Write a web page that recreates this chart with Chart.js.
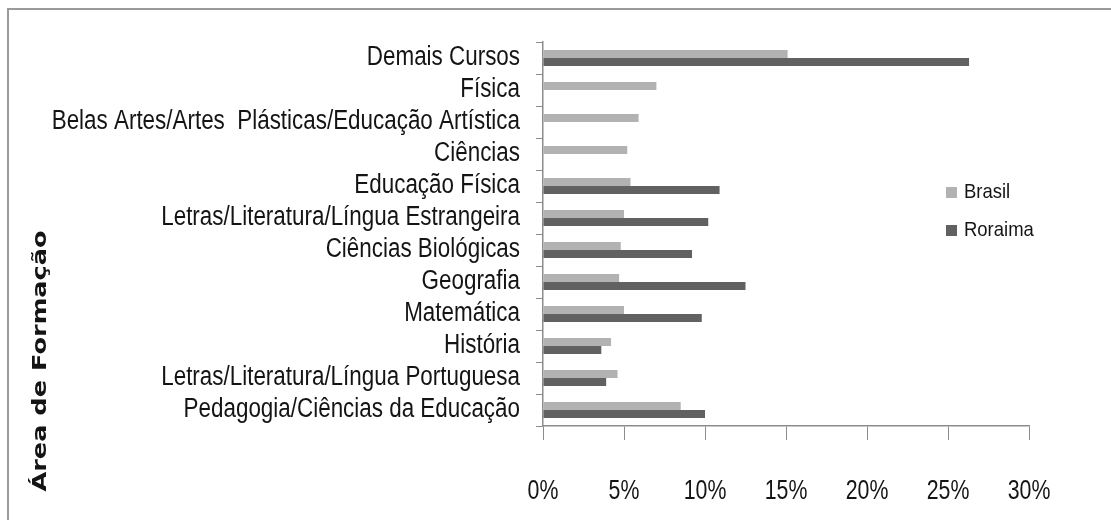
<!DOCTYPE html>
<html>
<head>
<meta charset="utf-8">
<script src="https://cdn.jsdelivr.net/npm/chart.js@4.4.1/dist/chart.umd.min.js"></script>
<style>
  html, body { margin: 0; padding: 0; background: #fff; }
  #wrap { position: relative; width: 1111px; height: 520px; overflow: hidden; }
  #frame { position: absolute; left: 7px; top: 8px; right: -10px; bottom: -10px;
           border-left: 2px solid #9a9a9a; border-top: 2px solid #9a9a9a; pointer-events: none; }
  canvas { position: absolute; left: 0; top: 0; }
</style>
</head>
<body>
<div id="wrap">
  <canvas id="c" width="1111" height="520"></canvas>
  <div id="frame"></div>
</div>
<script>
const categories = [
  'Demais Cursos',
  'Física',
  'Belas Artes/Artes  Plásticas/Educação Artística',
  'Ciências',
  'Educação Física',
  'Letras/Literatura/Língua Estrangeira',
  'Ciências Biológicas',
  'Geografia',
  'Matemática',
  'História',
  'Letras/Literatura/Língua Portuguesa',
  'Pedagogia/Ciências da Educação'
];
const brasilValues  = [15.1, 7.0, 5.9, 5.2, 5.4, 5.0, 4.8, 4.7, 5.0, 4.2, 4.6, 8.5];
const roraimaValues = [26.3, null, null, null, 10.9, 10.2, 9.2, 12.5, 9.8, 3.6, 3.9, 10.0];
const seriesNames = ['Brasil', 'Roraima'];
const tickValues = [0, 5, 10, 15, 20, 25, 30];
const tickLabels = ['0%', '5%', '10%', '15%', '20%', '25%', '30%'];
const axisTitle = 'Área de Formação';

const LABEL_FONT = '27px "Liberation Sans", Arial, sans-serif';
const SQUEEZE_Y = 0.83;
const SQUEEZE_X = 0.79;
const AXIS_GREY = '#8c8c8c';
const TEXT = '#141414';

// Tick labels drawn through the scales, horizontally condensed like the original
const labelPlugin = {
  id: 'narrowLabels',
  afterDraw(chart) {
    const ctx = chart.ctx;
    const ys = chart.scales.y;
    const xs = chart.scales.x;
    ctx.save();
    ctx.font = LABEL_FONT;
    ctx.fillStyle = TEXT;
    ctx.textBaseline = 'middle';
    ys.ticks.forEach((t, i) => {
      const y = ys.getPixelForTick(i);
      ctx.save();
      ctx.translate(ys.right - 7 - 16, y);
      ctx.scale(SQUEEZE_Y, 1);
      ctx.textAlign = 'right';
      ctx.fillText(ys.getLabelForValue(t.value), 0, 0);
      ctx.restore();
    });
    tickValues.forEach((v, i) => {
      const x = xs.getPixelForValue(v);
      ctx.save();
      ctx.translate(x, 492);
      ctx.scale(SQUEEZE_X, 1);
      ctx.textAlign = 'center';
      ctx.fillText(tickLabels[i], 0, 0);
      ctx.restore();
    });
    ctx.restore();
  }
};

const legendPlugin = {
  id: 'customLegend',
  afterDraw(chart) {
    const ctx = chart.ctx;
    const area = chart.chartArea;
    const x = area.left + 403;
    const ys = [192, 230];
    ctx.save();
    ctx.font = '21px "Liberation Sans", Arial, sans-serif';
    ctx.textBaseline = 'middle';
    ctx.textAlign = 'left';
    chart.data.datasets.forEach((ds, i) => {
      ctx.fillStyle = ds.backgroundColor;
      ctx.fillRect(x, ys[i] - 5, 11, 11);
      ctx.fillStyle = TEXT;
      ctx.save();
      ctx.translate(x + 18, ys[i]);
      ctx.scale(0.88, 1);
      ctx.fillText(ds.label, 0, 0);
      ctx.restore();
    });
    ctx.restore();
  }
};

const titlePlugin = {
  id: 'yTitle',
  afterDraw(chart) {
    const ctx = chart.ctx;
    ctx.save();
    ctx.translate(41, 361);
    ctx.rotate(-Math.PI / 2);
    ctx.scale(1.28, 1);
    ctx.font = 'bold 20px "DejaVu Sans", sans-serif';
    ctx.fillStyle = TEXT;
    ctx.textAlign = 'center';
    ctx.textBaseline = 'middle';
    ctx.fillText(axisTitle, 0, 0);
    ctx.restore();
  }
};

new Chart(document.getElementById('c'), {
  type: 'bar',
  data: {
    labels: categories,
    datasets: [
      { label: seriesNames[0], data: brasilValues, backgroundColor: '#b2b2b2', borderWidth: 0 },
      { label: seriesNames[1], data: roraimaValues, backgroundColor: '#616161', borderWidth: 0 }
    ]
  },
  options: {
    indexAxis: 'y',
    responsive: false,
    animation: false,
    devicePixelRatio: 1,
    categoryPercentage: 0.5,
    barPercentage: 1.0,
    layout: { padding: { top: 42, right: 82, bottom: 0, left: 0 } },
    plugins: { legend: { display: false }, tooltip: { enabled: false } },
    scales: {
      y: {
        type: 'category',
        afterFit(scale) { scale.width = 543; },
        grid: { display: true, drawOnChartArea: false, drawTicks: true, tickLength: 7, color: AXIS_GREY, offset: true },
        border: { display: true, color: AXIS_GREY, width: 1.5 },
        ticks: { display: false, autoSkip: false }
      },
      x: {
        min: 0, max: 30,
        afterFit(scale) { scale.height = 94; },
        grid: { display: true, drawOnChartArea: false, drawTicks: true, tickLength: 14, color: AXIS_GREY },
        border: { display: true, color: AXIS_GREY, width: 1.5 },
        ticks: { display: false, stepSize: 5 }
      }
    }
  },
  plugins: [labelPlugin, legendPlugin, titlePlugin]
});
</script>
</body>
</html>
